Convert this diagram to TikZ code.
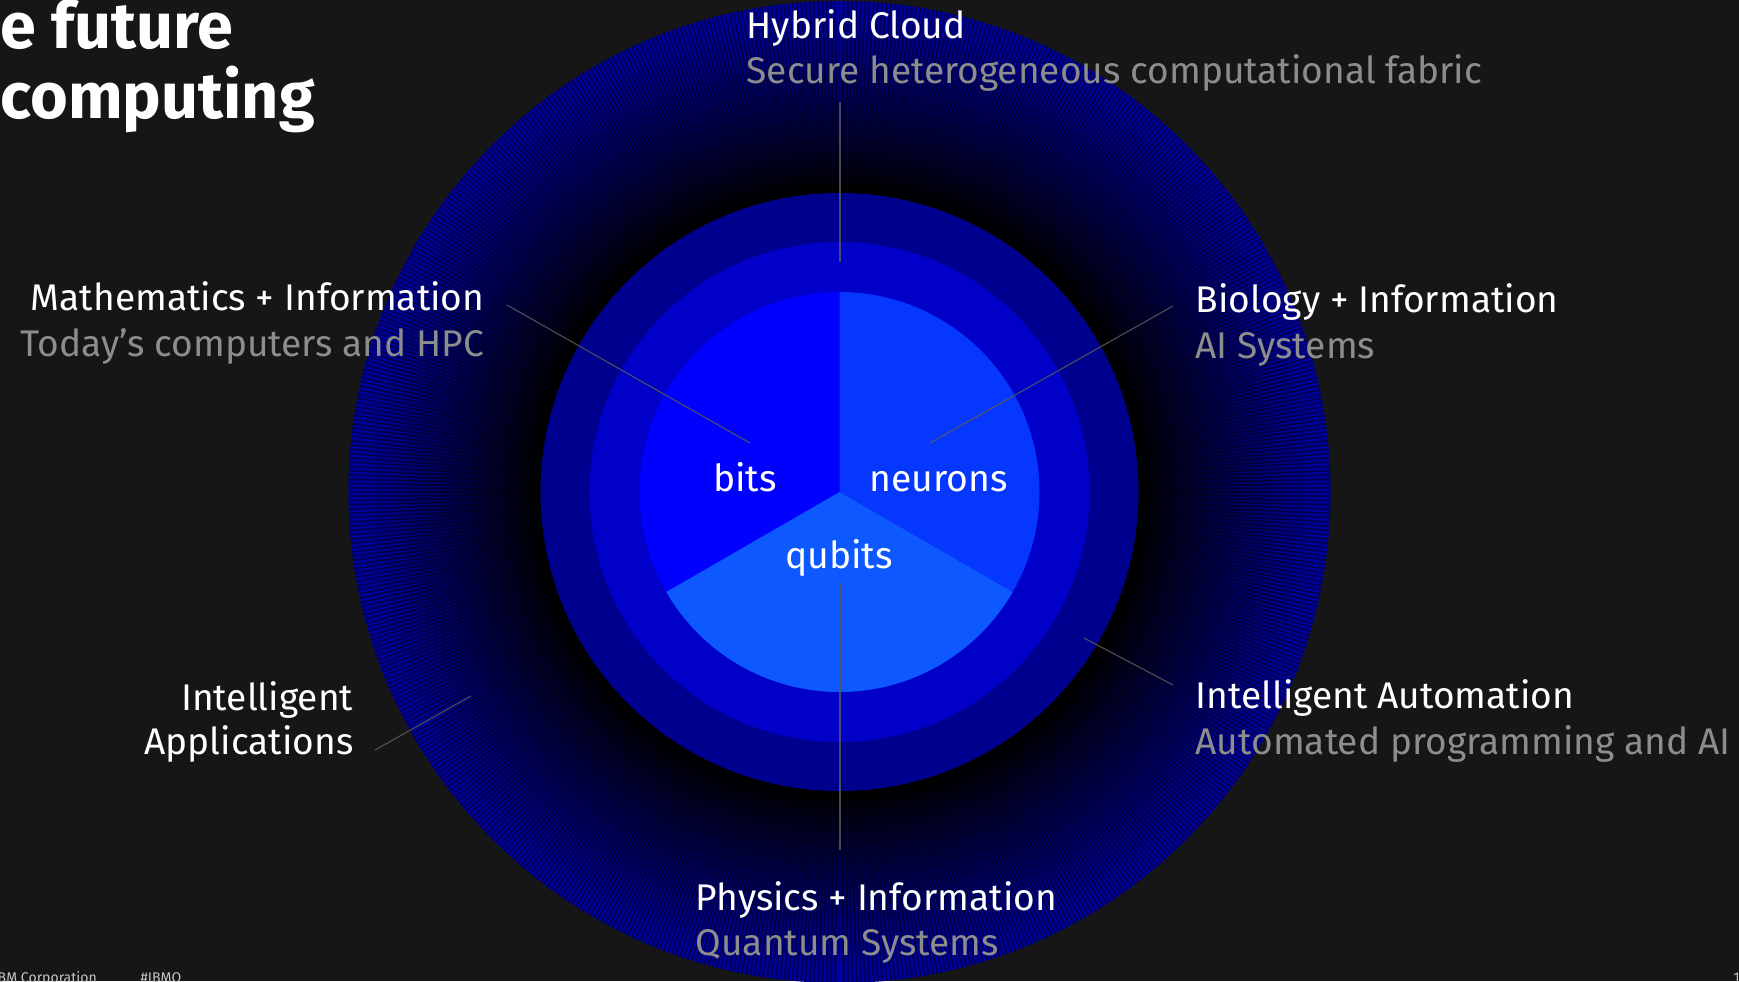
\documentclass[tikz,border=0pt]{standalone}
\usepackage{fontspec}
\setmainfont{Fira Sans}
\usetikzlibrary{positioning, calc}
\definecolor{bgdark}{HTML}{161616}
\definecolor{ringouter}{RGB}{0,0,160}
\definecolor{ringmid}{HTML}{00008E}
\definecolor{ringin}{HTML}{0000C8}
\definecolor{bitsblue}{HTML}{0000FF}
\definecolor{neuronblue}{HTML}{0537FF}
\definecolor{qubitblue}{HTML}{0D58FF}
\definecolor{subgray}{HTML}{8D8D8D}
\definecolor{leadgray}{HTML}{5A5A5A}
\definecolor{footgray}{HTML}{C6C6C6}

\begin{document}
\begin{tikzpicture}[
    x=0.01cm, y=-0.01cm,
    head/.style={text=white, inner sep=0pt, font=\fontsize{10.55}{12}\selectfont},
    sub/.style={text=subgray, inner sep=0pt, font=\fontsize{10.55}{12}\selectfont},
    core/.style={text=white, inner sep=0pt, font=\fontsize{10.6}{12}\selectfont},
    title/.style={text=white, inner sep=0pt, font=\fontsize{18.4}{22}\selectfont\bfseries},
    foot/.style={text=footgray, inner sep=0pt, font=\fontsize{4}{5}\selectfont},
    lead/.style={draw=leadgray, line width=0.35pt, opacity=0.8},
    stripe/.style={black, opacity=0.45, line width=0.55pt}
]
    \useasboundingbox (0,0) rectangle (1739,981);
    \fill[bgdark] (0,0) rectangle (1739,981);

    \coordinate (c) at (839.5,492);

    % Outer ring, fading to black towards the middle
    \foreach \i in {0,...,63} {
        \pgfmathsetmacro{\r}{491-\i*3}
        \pgfmathtruncatemacro{\p}{100*(max(0,min(1,(\r-305)/175)))^0.8}
        \fill[ringouter!\p!black] (c) circle[radius=\r];
    }
    \foreach \a in {0,0.5,...,359.5}
        \draw[stripe] (c) ++(\a:300) -- ++(\a:191);

    % Inner rings
    \fill[ringmid] (c) circle[radius=299];
    \fill[ringin] (c) circle[radius=250];

    % Pie (y is flipped, so angles run clockwise)
    \fill[bitsblue] (c) -- ++(-90:200) arc[start angle=-90, end angle=-210, radius=200] -- cycle;
    \fill[neuronblue] (c) -- ++(-90:200) arc[start angle=-90, end angle=30, radius=200] -- cycle;
    \fill[qubitblue] (c) -- ++(-210:200) arc[start angle=-210, end angle=-330, radius=200] -- cycle;

    % Leader ends
    \coordinate (cloudA) at (840,102);  \coordinate (cloudB) at (840,262);
    \coordinate (mathA) at (507,305);   \coordinate (mathB) at (750,443);
    \coordinate (bioA) at (1173,306);   \coordinate (bioB) at (930,443);
    \coordinate (autoA) at (1173,685);  \coordinate (autoB) at (1084,638);
    \coordinate (appsA) at (375,750);   \coordinate (appsB) at (471,696);
    \coordinate (physA) at (840,583);   \coordinate (physB) at (840,850);

    % Leader lines
    \draw[lead] (cloudA) -- (cloudB);
    \draw[lead] (mathA) -- (mathB);
    \draw[lead] (bioA) -- (bioB);
    \draw[lead] (autoA) -- (autoB);
    \draw[lead] (appsA) -- (appsB);
    \draw[lead] (physA) -- (physB);

    % Core labels
    \node[core, anchor=base] (bits) at (745,491) {bits};
    \node[core, anchor=base] (neurons) at (938.5,491) {neurons};
    \node[core, anchor=base] (qubits) at (839,568) {qubits};

    % Hybrid Cloud
    \node[head, anchor=base west] (cloud) at (746,38) {Hybrid Cloud};
    \node[sub, anchor=base west] (cloudsub) at (746,83) {Secure heterogeneous computational fabric};

    % Mathematics
    \node[head, anchor=base east] (math) at (485,310) {Mathematics + Information};
    \node[sub, anchor=base east] (mathsub) at (485,356) {Today’s computers and HPC};

    % Biology
    \node[head, anchor=base west] (bio) at (1195,312) {Biology + Information};
    \node[sub, anchor=base west] (biosub) at (1195,358) {AI Systems};

    % Intelligent Automation
    \node[head, anchor=base west] (auto) at (1195,708) {Intelligent Automation};
    \node[sub, anchor=base west] (autosub) at (1195,754) {Automated programming and AI};

    % Intelligent Applications
    \node[head, anchor=base east] (apps) at (354,710) {Intelligent};
    \node[head, anchor=base east] (apps2) at (354,754) {Applications};

    % Physics
    \node[head, anchor=base west] (phys) at (695,910) {Physics + Information};
    \node[sub, anchor=base west] (physsub) at (695,955) {Quantum Systems};

    % Title
    \node[title, anchor=base west] (title1) at (0,48) {e future};
    \node[title, anchor=base west] (title2) at (0,118) {computing};

    % Footer
    \node[foot, anchor=base west] (corp) at (-3,982) {BM Corporation};
    \node[foot, anchor=base west] (tag) at (140,982) {\#IBMQ};
    \node[foot, anchor=base west] (page) at (1733,982) {1};

\end{tikzpicture}
\end{document}
